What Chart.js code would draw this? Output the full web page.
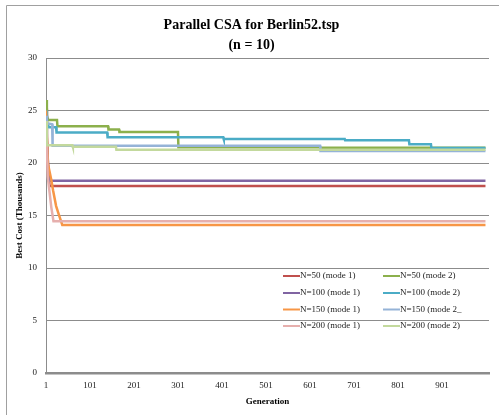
<!DOCTYPE html>
<html>
<head>
<meta charset="utf-8">
<script src="https://cdn.jsdelivr.net/npm/chart.js@4"></script>
<style>
    body { margin: 0; background: #fff; }
    #wrap { width: 499px; height: 415px; position: relative; }
</style>
</head>
<body>
<div id="wrap"><canvas id="csaChart"></canvas></div>
<script>
// Series labels (legend order, as in the original)
const seriesNames = [
    'N=50 (mode 1)', 'N=50 (mode 2)',
    'N=100 (mode 1)', 'N=100 (mode 2)',
    'N=150 (mode 1)', 'N=150 (mode 2_',
    'N=200 (mode 1)', 'N=200 (mode 2)'
];
const seriesColors = ['#C0504D', '#8CB04C', '#8064A2', '#4BACC6', '#F79646', '#95B3D7', '#E6AFAD', '#C3D99D'];

// Best cost (thousands) at the generations where it changes
const n50m1Gen = [1, 3, 6, 9, 1000];
const n50m1Cost = [25.2, 22.5, 19.5, 17.8, 17.8];
const n50m2Gen = [1, 3, 6, 26, 27, 142, 143, 167, 168, 301, 302, 624, 625, 1000];
const n50m2Cost = [26.0, 24.5, 24.1, 24.1, 23.5, 23.5, 23.2, 23.2, 22.96, 22.96, 21.5, 21.5, 21.45, 21.45];
const n100m1Gen = [1, 3, 6, 9, 1000];
const n100m1Cost = [24.6, 22.0, 19.5, 18.3, 18.3];
const n100m2Gen = [1, 3, 8, 24, 25, 140, 141, 404, 405, 680, 681, 826, 827, 876, 877, 1000];
const n100m2Cost = [25.0, 23.8, 23.4, 23.4, 22.9, 22.9, 22.45, 22.45, 22.3, 22.3, 22.16, 22.16, 21.8, 21.8, 21.43, 21.43];
const n150m1Gen = [1, 5, 13, 17, 24, 30, 38, 1000];
const n150m1Cost = [25.0, 20.0, 18.4, 17.4, 15.9, 15.1, 14.1, 14.1];
const n150m2Gen = [1, 3, 15, 16, 624, 625, 1000];
const n150m2Cost = [24.5, 23.8, 23.7, 21.65, 21.65, 21.15, 21.15];
const n200m1Gen = [1, 5, 13, 18, 1000];
const n200m1Cost = [24.0, 18.7, 15.8, 14.45, 14.45];
const n200m2Gen = [1, 3, 61, 62, 160, 161, 1000];
const n200m2Cost = [24.0, 21.7, 21.7, 21.55, 21.55, 21.27, 21.27];

const seriesGens = [n50m1Gen, n50m2Gen, n100m1Gen, n100m2Gen, n150m1Gen, n150m2Gen, n200m1Gen, n200m2Gen];
const seriesCosts = [n50m1Cost, n50m2Cost, n100m1Cost, n100m2Cost, n150m1Cost, n150m2Cost, n200m1Cost, n200m2Cost];

// Axis ticks
const xTicks = [1, 101, 201, 301, 401, 501, 601, 701, 801, 901];
const yMax = 30;
const yStep = 5;

const serif = "'Liberation Serif', 'Times New Roman', serif";

// Excel-like frame, plus the legend drawn inside the plot area in two columns
const extrasPlugin = {
    id: 'extras',
    beforeDraw(chart) {
        const ctx = chart.ctx;
        ctx.save();
        ctx.strokeStyle = '#a0a0a0';
        ctx.lineWidth = 1;
        ctx.beginPath();
        ctx.moveTo(6.5, 415);
        ctx.lineTo(6.5, 5.5);
        ctx.lineTo(499, 5.5);
        ctx.stroke();
        ctx.restore();
    },
    afterDraw(chart) {
        const ctx = chart.ctx;
        const colX = [283, 383];
        const rowY = [276, 293, 309.5, 326];
        ctx.save();
        ctx.font = '9px ' + serif;
        ctx.textBaseline = 'middle';
        chart.data.datasets.forEach((ds, i) => {
            const x = colX[i % 2];
            const y = rowY[Math.floor(i / 2)];
            ctx.strokeStyle = ds.borderColor;
            ctx.lineWidth = 2;
            ctx.beginPath();
            ctx.moveTo(x, y);
            ctx.lineTo(x + 17, y);
            ctx.stroke();
            ctx.fillStyle = '#222';
            ctx.fillText(ds.label, x + 17, y);
        });
        ctx.restore();
    }
};

const ctx = document.getElementById('csaChart').getContext('2d');
const csaChart = new Chart(ctx, {
    type: 'line',
    data: {
        datasets: seriesNames.map((name, i) => ({
            label: name,
            data: seriesGens[i].map((g, k) => ({ x: g, y: seriesCosts[i][k] })),
            borderColor: seriesColors[i],
            backgroundColor: seriesColors[i],
            borderWidth: 2.5,
            pointRadius: 0,
            tension: 0,
            fill: false,
            order: seriesNames.length - i
        }))
    },
    options: {
        responsive: true,
        maintainAspectRatio: false,
        animation: false,
        layout: {
            padding: { left: 14, right: 10, top: 0, bottom: 8 }
        },
        plugins: {
            legend: { display: false },
            tooltip: { enabled: false },
            title: {
                display: true,
                text: ['Parallel CSA for Berlin52.tsp', '(n = 10)'],
                color: '#000',
                font: { family: serif, size: 14, weight: 'bold', lineHeight: 1.43 },
                padding: { top: 15, bottom: 3 }
            }
        },
        scales: {
            x: {
                type: 'linear',
                min: 1,
                max: 1008,
                afterBuildTicks: scale => {
                    scale.ticks = xTicks.map(v => ({ value: v }));
                },
                afterFit: scale => { scale.height = 34; },
                grid: { display: false, drawTicks: false },
                border: { display: true, color: '#8c8c8c', width: 2.5 },
                ticks: {
                    color: '#222',
                    font: { family: serif, size: 9 },
                    padding: 7,
                    maxRotation: 0,
                    autoSkip: false
                },
                title: {
                    display: true,
                    text: 'Generation',
                    color: '#000',
                    font: { family: serif, size: 9, weight: 'bold' },
                    padding: 0
                }
            },
            y: {
                min: 0,
                max: yMax,
                ticks: {
                    stepSize: yStep,
                    color: '#222',
                    font: { family: serif, size: 9 },
                    padding: 9
                },
                afterFit: scale => { scale.width = 32; },
                grid: { color: '#8c8c8c', lineWidth: 1, drawTicks: false },
                border: { display: true, color: '#8c8c8c', width: 1 },
                title: {
                    display: true,
                    text: 'Best Cost (Thousands)',
                    color: '#000',
                    font: { family: serif, size: 9, weight: 'bold' },
                    padding: 0
                }
            }
        }
    },
    plugins: [extrasPlugin]
});
</script>
</body>
</html>
